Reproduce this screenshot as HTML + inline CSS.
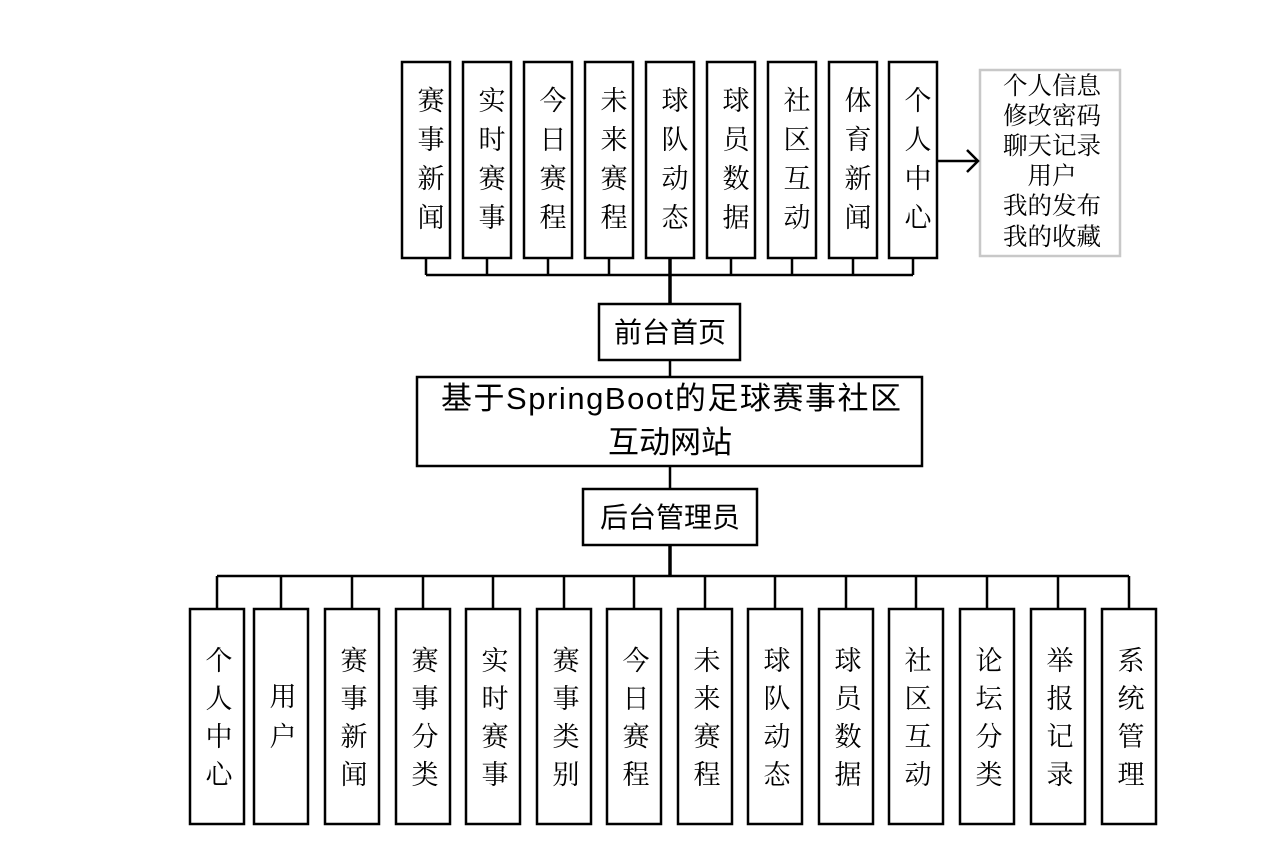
<!DOCTYPE html>
<html><head><meta charset="utf-8"><style>
html,body{margin:0;padding:0;background:#fff;}
svg{display:block;}
.s{font-family:"Liberation Serif","Noto Serif CJK SC",serif;font-size:27px;fill:#000;}
.r{font-family:"Liberation Serif","Noto Serif CJK SC",serif;font-size:24.5px;fill:#000;}
.h{font-family:"Liberation Sans","Noto Sans CJK SC",sans-serif;fill:#000;}
</style></head><body>
<svg width="1281" height="849" viewBox="0 0 1281 849" xmlns="http://www.w3.org/2000/svg">
<g fill="#fff" stroke="#000" stroke-width="2.5">
<rect x="402" y="62" width="48" height="196"/>
<rect x="463" y="62" width="48" height="196"/>
<rect x="524" y="62" width="48" height="196"/>
<rect x="585" y="62" width="48" height="196"/>
<rect x="646" y="62" width="48" height="196"/>
<rect x="707" y="62" width="48" height="196"/>
<rect x="768" y="62" width="48" height="196"/>
<rect x="829" y="62" width="48" height="196"/>
<rect x="889" y="62" width="48" height="196"/>
<rect x="599" y="304" width="141" height="56"/>
<rect x="417" y="377" width="505" height="89"/>
<rect x="583" y="489" width="174" height="56"/>
</g>
<rect x="980" y="70" width="140" height="186" fill="#fff" stroke="#c8c8c8" stroke-width="2.5"/>
<g stroke="#000" stroke-width="2.5" fill="none">
<path d="M426 258V275M487 258V275M548 258V275M609 258V275M731 258V275M792 258V275M853 258V275M913 258V275M426 275H913"/>
<path d="M670 258V304" stroke-width="3.5"/>
<path d="M670 360V377M670 466V489"/>
<path d="M670 545V576" stroke-width="3.5"/>
<path d="M217 576H1129"/>
<path d="M217 576V609M281 576V609M352 576V609M423 576V609M493 576V609M564 576V609M634 576V609M705 576V609M775 576V609M846 576V609M916 576V609M987 576V609M1058 576V609M1129 576V609"/>
<path d="M937 161H978M967 150L978 161L967 172"/>
</g>
<g fill="#fff" stroke="#000" stroke-width="2.5">
<rect x="190" y="609" width="54" height="215"/>
<rect x="254" y="609" width="54" height="215"/>
<rect x="325" y="609" width="54" height="215"/>
<rect x="396" y="609" width="54" height="215"/>
<rect x="466" y="609" width="54" height="215"/>
<rect x="537" y="609" width="54" height="215"/>
<rect x="607" y="609" width="54" height="215"/>
<rect x="678" y="609" width="54" height="215"/>
<rect x="748" y="609" width="54" height="215"/>
<rect x="819" y="609" width="54" height="215"/>
<rect x="889" y="609" width="54" height="215"/>
<rect x="960" y="609" width="54" height="215"/>
<rect x="1031" y="609" width="54" height="215"/>
<rect x="1102" y="609" width="54" height="215"/>
</g>
<g class="s" text-anchor="middle">
<text x="431" y="110">赛</text><text x="431" y="149">事</text><text x="431" y="188">新</text><text x="431" y="227">闻</text>
<text x="492" y="110">实</text><text x="492" y="149">时</text><text x="492" y="188">赛</text><text x="492" y="227">事</text>
<text x="553" y="110">今</text><text x="553" y="149">日</text><text x="553" y="188">赛</text><text x="553" y="227">程</text>
<text x="614" y="110">未</text><text x="614" y="149">来</text><text x="614" y="188">赛</text><text x="614" y="227">程</text>
<text x="675" y="110">球</text><text x="675" y="149">队</text><text x="675" y="188">动</text><text x="675" y="227">态</text>
<text x="736" y="110">球</text><text x="736" y="149">员</text><text x="736" y="188">数</text><text x="736" y="227">据</text>
<text x="797" y="110">社</text><text x="797" y="149">区</text><text x="797" y="188">互</text><text x="797" y="227">动</text>
<text x="858" y="110">体</text><text x="858" y="149">育</text><text x="858" y="188">新</text><text x="858" y="227">闻</text>
<text x="918" y="110">个</text><text x="918" y="149">人</text><text x="918" y="188">中</text><text x="918" y="227">心</text>
</g>
<g class="r" text-anchor="middle">
<text x="1052" y="94">个人信息</text>
<text x="1052" y="124">修改密码</text>
<text x="1052" y="154">聊天记录</text>
<text x="1052" y="184">用户</text>
<text x="1052" y="214">我的发布</text>
<text x="1052" y="245">我的收藏</text>
</g>
<text class="h" x="670" y="342" font-size="28" text-anchor="middle">前台首页</text>
<text class="h" x="441" y="409" font-size="31" textLength="460" lengthAdjust="spacing">基于SpringBoot的足球赛事社区</text>
<text class="h" x="670" y="453" font-size="31" text-anchor="middle">互动网站</text>
<text class="h" x="670" y="527" font-size="28" text-anchor="middle">后台管理员</text>
<g class="s" text-anchor="middle">
<text x="219" y="670">个</text><text x="219" y="708">人</text><text x="219" y="746">中</text><text x="219" y="784">心</text>
<text x="283" y="706">用</text><text x="283" y="746">户</text>
<text x="354" y="670">赛</text><text x="354" y="708">事</text><text x="354" y="746">新</text><text x="354" y="784">闻</text>
<text x="425" y="670">赛</text><text x="425" y="708">事</text><text x="425" y="746">分</text><text x="425" y="784">类</text>
<text x="495" y="670">实</text><text x="495" y="708">时</text><text x="495" y="746">赛</text><text x="495" y="784">事</text>
<text x="566" y="670">赛</text><text x="566" y="708">事</text><text x="566" y="746">类</text><text x="566" y="784">别</text>
<text x="636" y="670">今</text><text x="636" y="708">日</text><text x="636" y="746">赛</text><text x="636" y="784">程</text>
<text x="707" y="670">未</text><text x="707" y="708">来</text><text x="707" y="746">赛</text><text x="707" y="784">程</text>
<text x="777" y="670">球</text><text x="777" y="708">队</text><text x="777" y="746">动</text><text x="777" y="784">态</text>
<text x="848" y="670">球</text><text x="848" y="708">员</text><text x="848" y="746">数</text><text x="848" y="784">据</text>
<text x="918" y="670">社</text><text x="918" y="708">区</text><text x="918" y="746">互</text><text x="918" y="784">动</text>
<text x="989" y="670">论</text><text x="989" y="708">坛</text><text x="989" y="746">分</text><text x="989" y="784">类</text>
<text x="1060" y="670">举</text><text x="1060" y="708">报</text><text x="1060" y="746">记</text><text x="1060" y="784">录</text>
<text x="1131" y="670">系</text><text x="1131" y="708">统</text><text x="1131" y="746">管</text><text x="1131" y="784">理</text>
</g>
</svg>
</body></html>
